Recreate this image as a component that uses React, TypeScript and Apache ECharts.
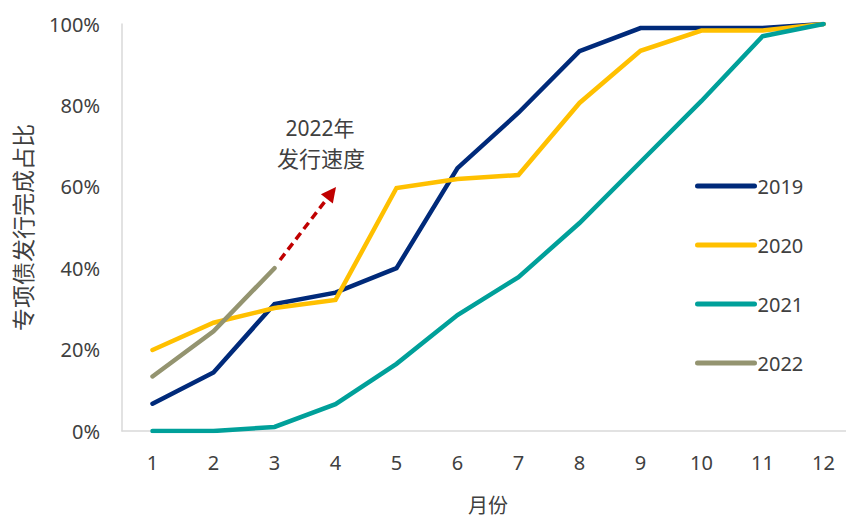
import React, { useEffect, useRef } from "react";
import * as echarts from "echarts";

// Months of the year (x-axis categories)
const months = ["1", "2", "3", "4", "5", "6", "7", "8", "9", "10", "11", "12"];

// Cumulative share of special-bond issuance completed, in %
const y2019 = [6.7, 14.4, 31.2, 34.0, 40.0, 64.6, 78.2, 93.3, 99.0, 99.0, 99.0, 100];
const y2020 = [19.9, 26.6, 30.2, 32.2, 59.7, 61.9, 62.9, 80.6, 93.4, 98.4, 98.4, 100];
const y2021 = [0, 0, 1.0, 6.6, 16.5, 28.5, 37.8, 51.1, 66.1, 81.1, 97.0, 100];
const y2022 = [13.4, 24.5, 40.0];

const seriesNames = ["2019", "2020", "2021", "2022"];
const seriesData = [y2019, y2020, y2021, y2022];
const seriesColors = ["#002a7a", "#ffc000", "#00a09a", "#949470"];

const FONT = "'Noto Sans', 'Noto Sans CJK SC', sans-serif";
const TEXT_COLOR = "#404040";

export default function App() {
  const ref = useRef<HTMLDivElement>(null);

  useEffect(() => {
    if (!ref.current) return;
    const chart = echarts.init(ref.current, undefined, { renderer: "svg" });

    // Dashed arrow pointing up-right from the 2022 line end
    const tail = [280, 260];
    const tip = [336, 187];
    const dx = tip[0] - tail[0];
    const dy = tip[1] - tail[1];
    const len = Math.sqrt(dx * dx + dy * dy);
    const ux = dx / len;
    const uy = dy / len;
    const headLen = 15;
    const headHalf = 7.5;
    const bx = tip[0] - ux * headLen;
    const by = tip[1] - uy * headLen;
    const px = -uy;
    const py = ux;

    chart.setOption({
      animation: false,
      textStyle: { fontFamily: FONT },
      grid: { left: 122, top: 24, right: -8, bottom: 89, outerBoundsMode: "none", containLabel: false },
      legend: {
        orient: "vertical",
        left: 695,
        top: 176,
        padding: 0,
        itemWidth: 57,
        itemHeight: 20,
        itemGap: 39,
        lineStyle: { width: 5, cap: "round" },
        itemStyle: { opacity: 0 },
        textStyle: { fontSize: 20, color: TEXT_COLOR, fontFamily: FONT, lineHeight: 20, padding: [0, 0, 0, -2] },
        data: seriesNames,
      },
      xAxis: {
        type: "category",
        data: months,
        boundaryGap: true,
        name: "月份",
        nameLocation: "middle",
        nameGap: 64,
        nameTextStyle: { fontSize: 20, color: TEXT_COLOR, fontFamily: FONT },
        axisLine: { show: true, lineStyle: { color: "#d9d9d9", width: 1.5 } },
        axisTick: { show: false },
        axisLabel: { fontSize: 20, color: TEXT_COLOR, margin: 21, fontFamily: FONT },
        splitLine: { show: false },
      },
      yAxis: {
        type: "value",
        min: 0,
        max: 100,
        interval: 20,
        name: "专项债发行完成占比",
        nameLocation: "middle",
        nameGap: 88,
        nameTextStyle: { fontSize: 23, color: TEXT_COLOR, fontFamily: FONT },
        axisLine: { show: true, lineStyle: { color: "#d9d9d9", width: 1.5 } },
        axisTick: { show: false },
        axisLabel: { fontSize: 20, color: TEXT_COLOR, margin: 22, formatter: "{value}%", fontFamily: FONT },
        splitLine: { show: false },
      },
      series: seriesNames.map((name, i) => ({
        name,
        type: "line",
        data: seriesData[i],
        symbol: "none",
        showSymbol: false,
        color: seriesColors[i],
        lineStyle: { width: 4.5, color: seriesColors[i], cap: "round", join: "miter" },
        z: 2 + i,
      })),
      graphic: [
        {
          type: "text",
          x: 320,
          y: 128,
          style: {
            text: "2022年",
            fontSize: 21,
            fontFamily: FONT,
            fill: TEXT_COLOR,
            align: "center",
            verticalAlign: "middle",
          },
        },
        {
          type: "text",
          x: 321,
          y: 158,
          style: {
            text: "发行速度",
            fontSize: 22,
            fontFamily: FONT,
            fill: TEXT_COLOR,
            align: "center",
            verticalAlign: "middle",
          },
        },
        {
          type: "line",
          shape: { x1: tail[0], y1: tail[1], x2: bx + ux * 1, y2: by + uy * 1 },
          style: { stroke: "#c00000", lineWidth: 3.5, lineDash: [8, 5] },
        },
        {
          type: "polygon",
          shape: {
            points: [
              [tip[0], tip[1]],
              [bx + px * headHalf, by + py * headHalf],
              [bx - px * headHalf, by - py * headHalf],
            ],
          },
          style: { fill: "#c00000" },
        },
      ],
    });

    return () => chart.dispose();
  }, []);

  return (
    <div
      ref={ref}
      style={{ position: "absolute", left: 0, top: 0, width: 846, height: 520, background: "#fff" }}
    />
  );
}
